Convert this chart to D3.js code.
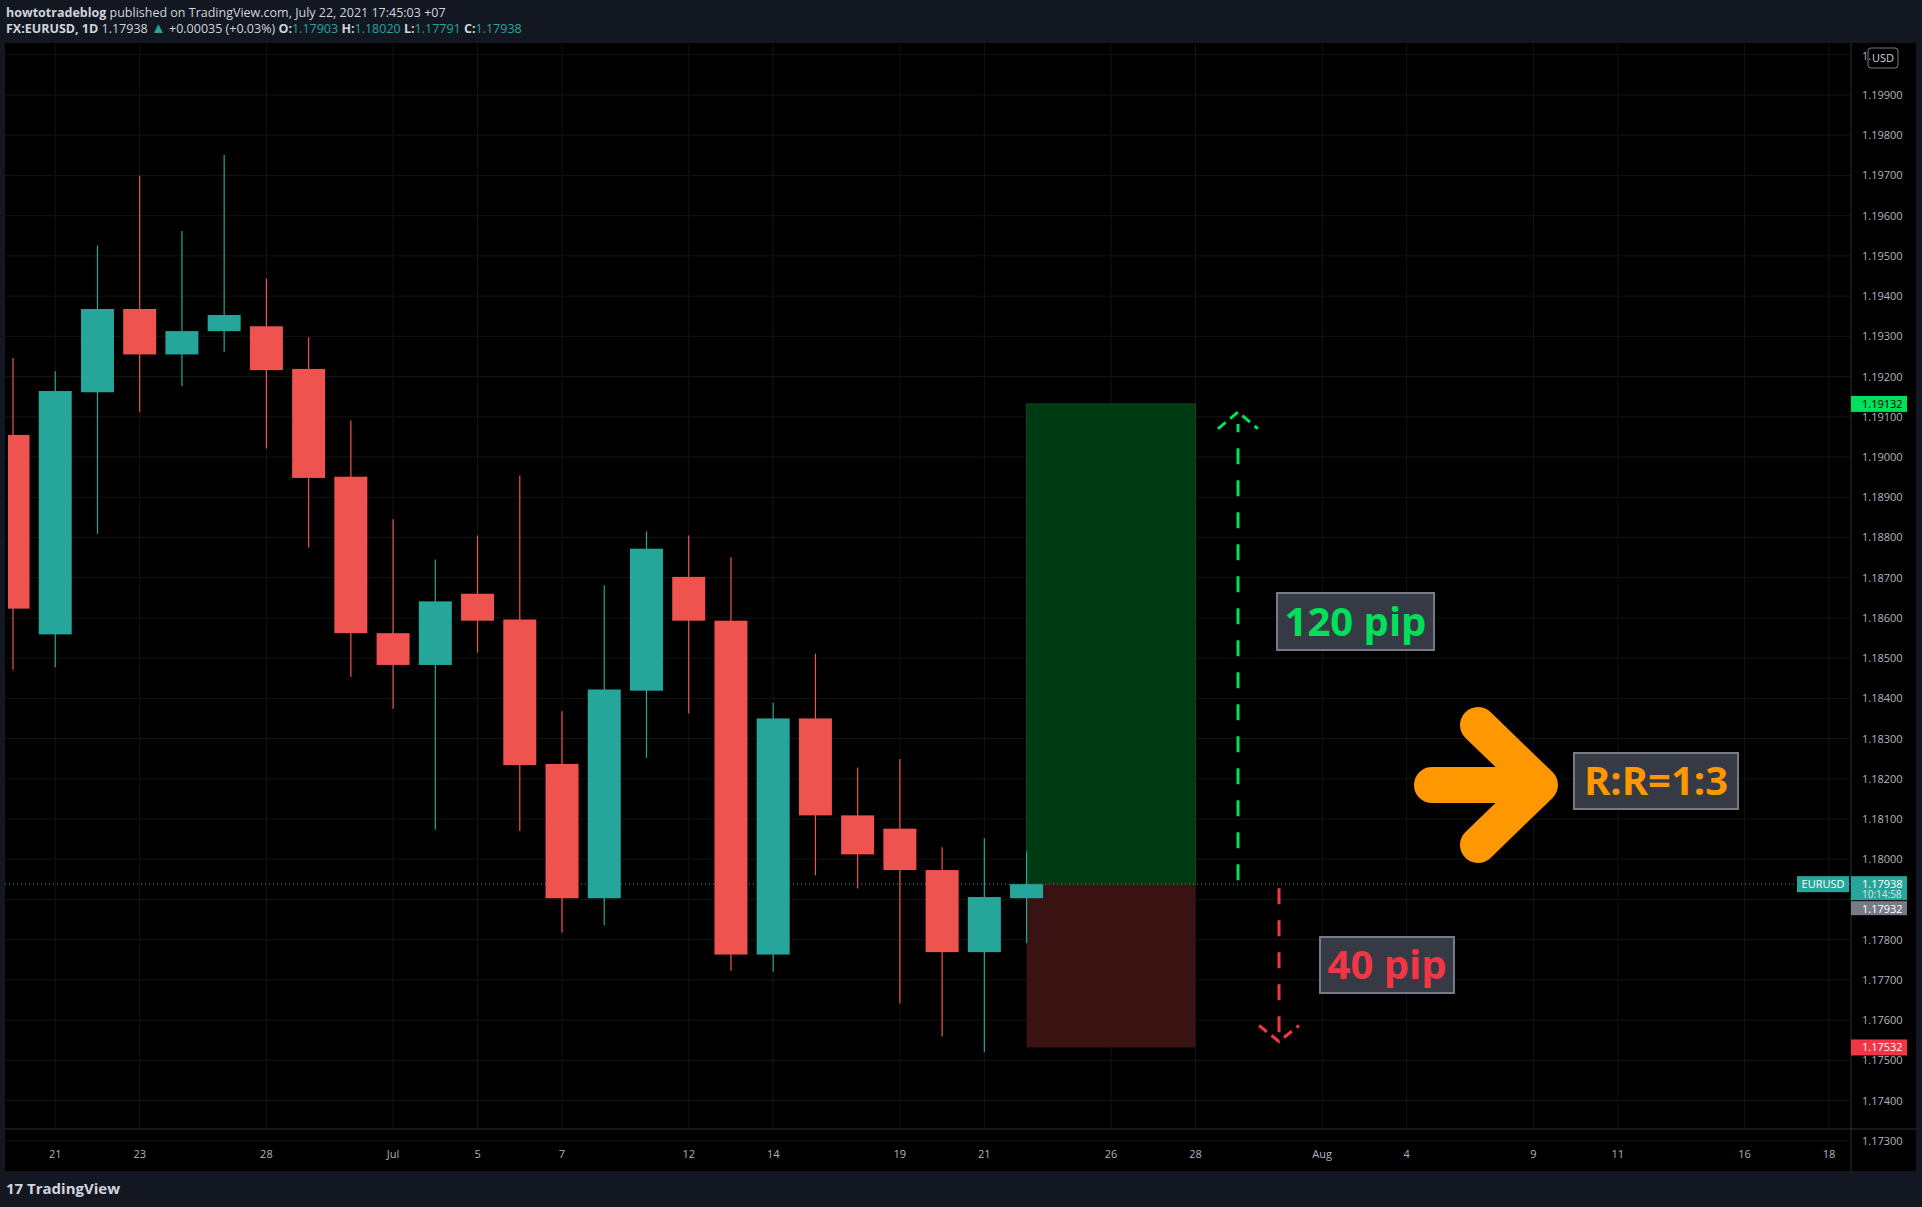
<!DOCTYPE html>
<html><head><meta charset="utf-8">
<script src="https://cdnjs.cloudflare.com/ajax/libs/d3/7.8.5/d3.min.js"></script>
<style>body{margin:0;background:#131722;overflow:hidden}text{font-family:"Open Sans","Noto Sans",sans-serif}</style>
</head><body><div id="chart"></div>
<script>
// daily candles, Jun 18 .. Jul 22 2021 (index = trading day)
var dates = ["Jun 18","Jun 21","Jun 22","Jun 23","Jun 24","Jun 25","Jun 28","Jun 29","Jun 30","Jul 1","Jul 2","Jul 5","Jul 6","Jul 7","Jul 8","Jul 9","Jul 12","Jul 13","Jul 14","Jul 15","Jul 16","Jul 19","Jul 20","Jul 21","Jul 22"];
var opens  = [1.19055,1.18559,1.19161,1.19368,1.19255,1.19313,1.19325,1.19219,1.18951,1.18562,1.18483,1.18660,1.18596,1.18237,1.17903,1.18419,1.18702,1.18593,1.17763,1.18350,1.18109,1.18076,1.17973,1.17769,1.17903];
var highs  = [1.19246,1.19213,1.19526,1.19699,1.19562,1.19751,1.19444,1.19298,1.19091,1.18845,1.18745,1.18805,1.18954,1.18368,1.18681,1.18815,1.18805,1.18751,1.18389,1.18511,1.18228,1.18249,1.18030,1.18052,1.18020];
var lows   = [1.18471,1.18477,1.18809,1.19112,1.19176,1.19261,1.19021,1.18775,1.18453,1.18374,1.18073,1.18514,1.18070,1.17818,1.17836,1.18252,1.18362,1.17723,1.17720,1.17960,1.17927,1.17641,1.17559,1.17520,1.17791];
var closes = [1.18623,1.19164,1.19368,1.19255,1.19313,1.19353,1.19216,1.18948,1.18562,1.18483,1.18641,1.18593,1.18234,1.17903,1.18422,1.18772,1.18593,1.17763,1.18350,1.18109,1.18012,1.17973,1.17769,1.17906,1.17938];
var dateTickIdx = [1,3,6,9,11,13,16,18,21,23,26,28,31,33,36,38,41,43];
var dateTickLbl = ["21","23","28","Jul","5","7","12","14","19","21","26","28","Aug","4","9","11","16","18"];
var priceTicks = [1.200,1.199,1.198,1.197,1.196,1.195,1.194,1.193,1.192,1.191,1.190,1.189,1.188,1.187,1.186,1.185,1.184,1.183,1.182,1.181,1.180,1.179,1.178,1.177,1.176,1.175,1.174,1.173];
var entry = 1.17938, target = 1.19132, stop = 1.17532, prevClose = 1.17932;
var zoneStart = 24, zoneEnd = 28;

var W = 1922, H = 1207;
var svg = d3.select("#chart").append("svg").attr("width", W).attr("height", H);
var L = 5, R = 1851, T = 43, B = 1129;
var x = d3.scaleLinear().domain([0, 43]).range([13, 1829]);
var y = d3.scaleLinear().domain([1.19, 1.199]).range([457, 95]);
var up = "#26a69a", dn = "#ef5350";

svg.append("rect").attr("x", L).attr("y", T).attr("width", 1911).attr("height", 1128).attr("fill", "#000");

var g = svg.append("g");
g.selectAll(".vg").data(dateTickIdx).join("line").attr("x1", d => x(d)).attr("x2", d => x(d))
  .attr("y1", T).attr("y2", B).attr("stroke", "#141414");
g.selectAll(".hg").data(priceTicks).join("line").attr("x1", L).attr("x2", R)
  .attr("y1", d => y(d)).attr("y2", d => y(d)).attr("stroke", "#141414");
svg.append("line").attr("x1", R).attr("x2", R).attr("y1", T).attr("y2", 1171).attr("stroke", "#2a2e39");
svg.append("line").attr("x1", L).attr("x2", 1916).attr("y1", B).attr("y2", B).attr("stroke", "#2a2e39");

// zones
svg.append("rect").attr("x", x(zoneStart)).attr("width", x(zoneEnd) - x(zoneStart))
  .attr("y", y(target)).attr("height", y(entry) - y(target)).attr("fill", "#003a12").attr("stroke", "#0c4a1c");
svg.append("rect").attr("x", x(zoneStart)).attr("width", x(zoneEnd) - x(zoneStart))
  .attr("y", y(entry)).attr("height", y(stop) - y(entry)).attr("fill", "#3a1212");

// current price line
svg.append("line").attr("x1", L).attr("x2", R).attr("y1", y(entry)).attr("y2", y(entry))
  .attr("stroke", up).attr("stroke-dasharray", "1,3");

// candles
var idx = d3.range(dates.length);
var bw = 33;
var cg = svg.append("g");
cg.selectAll(".wick").data(idx).join("line")
  .attr("x1", i => x(i)).attr("x2", i => x(i)).attr("y1", i => y(highs[i])).attr("y2", i => y(lows[i]))
  .attr("stroke", i => closes[i] >= opens[i] ? up : dn).attr("stroke-width", 1.2);
cg.selectAll(".body").data(idx).join("rect")
  .attr("x", i => Math.max(L + 3, x(i) - bw / 2)).attr("width", i => bw - Math.max(0, L + 3 - (x(i) - bw / 2)))
  .attr("y", i => y(Math.max(opens[i], closes[i])))
  .attr("height", i => Math.max(1, Math.abs(y(opens[i]) - y(closes[i]))))
  .attr("fill", i => closes[i] >= opens[i] ? up : dn);

// dashed arrows
var ax1 = 1238, ax2 = 1279;
svg.append("line").attr("x1", ax1).attr("x2", ax1).attr("y1", y(entry) - 4).attr("y2", y(target) + 20)
  .attr("stroke", "#00e05a").attr("stroke-width", 3).attr("stroke-dasharray", "16,16");
svg.append("path").attr("d", `M${ax1-20},${y(target)+25} L${ax1},${y(target)+8} L${ax1+20},${y(target)+25}`)
  .attr("fill", "none").attr("stroke", "#00e05a").attr("stroke-width", 3).attr("stroke-dasharray", "10,6");
svg.append("line").attr("x1", ax2).attr("x2", ax2).attr("y1", y(entry) + 4).attr("y2", y(stop) - 10)
  .attr("stroke", "#f23645").attr("stroke-width", 3).attr("stroke-dasharray", "16,16");
svg.append("path").attr("d", `M${ax2-20},${y(stop)-22} L${ax2},${y(stop)-6} L${ax2+20},${y(stop)-22}`)
  .attr("fill", "none").attr("stroke", "#f23645").attr("stroke-width", 3).attr("stroke-dasharray", "10,6");

// label boxes
function box(x0, y0, w, h, txt, col) {
  svg.append("rect").attr("x", x0).attr("y", y0).attr("width", w).attr("height", h)
    .attr("fill", "#363a45").attr("stroke", "#787b86").attr("stroke-width", 2);
  svg.append("text").attr("x", x0 + w / 2).attr("y", y0 + h / 2 + 14).attr("text-anchor", "middle")
    .attr("font-size", 40).attr("font-weight", "bold").attr("fill", col).text(txt);
}
box(1277, 593, 157, 57, "120 pip", "#00e05a");
box(1320, 937, 134, 56, "40 pip", "#f23645");
box(1574, 753, 164, 56, "R:R=1:3", "#ff9800");

// orange arrow
svg.append("path").attr("d", "M1432,785 L1530,785 M1478,725 L1540,785 L1478,845")
  .attr("fill", "none").attr("stroke", "#ff9800").attr("stroke-width", 36)
  .attr("stroke-linecap", "round").attr("stroke-linejoin", "round");

// axes
var hidden = [1.200, 1.179];
svg.selectAll(".pt").data(priceTicks.filter(d => hidden.indexOf(d) < 0)).join("text").attr("x", 1862).attr("y", d => y(d) + 4)
  .attr("font-size", 11).attr("fill", "#b2b5be").text(d => d.toFixed(5));
svg.selectAll(".dt").data(dateTickIdx).join("text").attr("x", d => x(d)).attr("y", 1158)
  .attr("text-anchor", "middle").attr("font-size", 11).attr("fill", "#b2b5be").text((d, i) => dateTickLbl[i]);

svg.append("rect").attr("x", 1868).attr("y", 48).attr("width", 30).attr("height", 20).attr("rx", 3)
  .attr("fill", "#000").attr("stroke", "#787b86");
svg.append("text").attr("x", 1883).attr("y", 62).attr("text-anchor", "middle").attr("font-size", 11).attr("fill", "#d1d4dc").text("USD");
svg.append("text").attr("x", 1862).attr("y", 60).attr("font-size", 11).attr("fill", "#b2b5be").text("1.");

function tag(top, col, txt, h, tc) {
  svg.append("rect").attr("x", 1851).attr("y", top).attr("width", 56).attr("height", h).attr("fill", col);
  svg.append("text").attr("x", 1862).attr("y", top + 12).attr("font-size", 11).attr("fill", tc || "#fff").text(txt);
}
tag(y(target) - 8, "#00e05a", "1.19132", 16, "#000");
tag(y(stop) - 8, "#f23645", "1.17532", 16);
tag(y(entry) - 8, up, "1.17938", 24);
svg.append("text").attr("x", 1862).attr("y", y(entry) + 14).attr("font-size", 10).attr("fill", "#e0e0e0").text("10:14:58");
tag(y(entry) + 17, "#787b86", "1.17932", 14);
svg.append("rect").attr("x", 1797).attr("y", y(entry) - 8).attr("width", 52).attr("height", 16).attr("fill", up);
svg.append("text").attr("x", 1823).attr("y", y(entry) + 4).attr("text-anchor", "middle").attr("font-size", 11).attr("fill", "#fff").text("EURUSD");

// header
var h1 = svg.append("text").attr("x", 6).attr("y", 17).attr("font-size", 12.5).attr("fill", "#d1d4dc");
h1.append("tspan").attr("font-weight", "bold").text("howtotradeblog");
h1.append("tspan").text(" published on TradingView.com, July 22, 2021 17:45:03 +07");
var h2 = svg.append("text").attr("x", 6).attr("y", 33).attr("font-size", 12.5).attr("fill", "#d1d4dc");
h2.append("tspan").attr("font-weight", "bold").text("FX:EURUSD, 1D");
h2.append("tspan").text("  1.17938 ");
h2.append("tspan").attr("fill", up).attr("font-size", 15).text("▲");
h2.append("tspan").text(" +0.00035 (+0.03%) ");
[["O:", "1.17903"], ["H:", "1.18020"], ["L:", "1.17791"], ["C:", "1.17938"]].forEach(p => {
  h2.append("tspan").attr("font-weight", "bold").text(p[0]);
  h2.append("tspan").attr("fill", up).text(p[1] + " ");
});
svg.append("text").attr("x", 6).attr("y", 1194).attr("font-size", 15).attr("font-weight", "bold").attr("fill", "#d1d4dc").text("17 TradingView");
</script></body></html>
